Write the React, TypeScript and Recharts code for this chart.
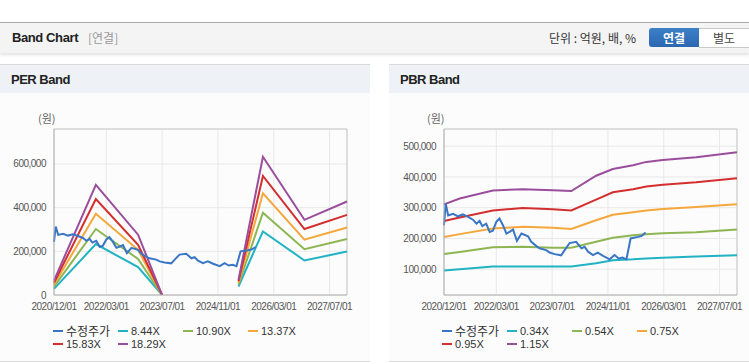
import { CartesianGrid, Line, LineChart, ReferenceLine, XAxis, YAxis } from 'recharts'

// x positions are month offsets from 2020/12/01
const tickMonths = [0, 15, 31, 47, 63, 79]
const tickLabels = ['2020/12/01', '2022/03/01', '2023/07/01', '2024/11/01', '2026/03/01', '2027/07/01']

// 수정주가 (adjusted price)
const priceMonths = [0, 0.5, 1.2, 2.6, 4.0, 5.4, 6.9, 8.3, 9.3, 10.2, 11.0, 12.1, 13.1, 14.0, 15.0, 15.9, 16.9, 17.9, 18.9, 19.8, 20.9, 22.2, 24.1, 25.0, 26.5, 27.4, 29.3, 30.3, 31.7, 33.6, 34.6, 36.0, 37.9, 39.4, 40.3, 41.3, 42.7, 44.1, 45.6, 47.5, 48.9, 50.1, 51.2, 52.3, 53.5, 55.6, 56.6, 57.8]
const priceValues = [243000, 313000, 275000, 280000, 272000, 278000, 270000, 261000, 248000, 257000, 240000, 248000, 221000, 225000, 254000, 265000, 243000, 216000, 222000, 229000, 192000, 216000, 207000, 189000, 175000, 168000, 162000, 154000, 149000, 145000, 162000, 185000, 189000, 168000, 173000, 157000, 146000, 154000, 143000, 132000, 146000, 135000, 138000, 132000, 200000, 205000, 208000, 219000]

// PER band
const perMonths = [0, 12.0, 24.1, 31.0, 42, 52.9, 59.9, 71.8, 84]
const per844 = [28000, 233000, 128000, 0, null, 39000, 291000, 158000, 199000]
const per1090 = [38000, 302000, 165000, 0, null, 48000, 377000, 210000, 256000]
const per1337 = [47000, 372000, 207000, 0, null, 56000, 466000, 253000, 309000]
const per1583 = [56000, 439000, 230000, 0, null, 63000, 545000, 302000, 367000]
const per1829 = [66000, 504000, 276000, 0, null, 70000, 633000, 344000, 428000]

// PBR band
const pbrMonths = [0, 4.5, 14, 22.6, 31.2, 36.5, 43.6, 48.4, 54.2, 58, 62.7, 72.3, 84]
const pbr034 = [96000, 100000, 109000, 109000, 109000, 109000, 119000, 129000, 132000, 135000, 137000, 141000, 145000]
const pbr054 = [149000, 156000, 171000, 173000, 170000, 170000, 189000, 202000, 210000, 214000, 217000, 220000, 229000]
const pbr075 = [205000, 214000, 232000, 238000, 235000, 231000, 259000, 277000, 285000, 291000, 296000, 302000, 311000]
const pbr095 = [257000, 268000, 291000, 299000, 295000, 291000, 326000, 350000, 360000, 369000, 375000, 383000, 396000]
const pbr115 = [311000, 330000, 356000, 360000, 357000, 354000, 404000, 426000, 438000, 449000, 455000, 464000, 480000]

const perNames = ['8.44X', '10.90X', '13.37X', '15.83X', '18.29X']
const pbrNames = ['0.34X', '0.54X', '0.75X', '0.95X', '1.15X']
const bandColors = ['#21b2c4', '#8db653', '#f5a73b', '#d32f2f', '#9a4e9c']
const priceColor = '#3a76c6'

const toPoints = (ms: number[], vs: (number | null)[]) => ms.map((m, i) => ({ m, v: vs[i] }))
const pricePoints = toPoints(priceMonths, priceValues)
const perBands = [per844, per1090, per1337, per1583, per1829].map(v => toPoints(perMonths, v))
const pbrBands = [pbr034, pbr054, pbr075, pbr095, pbr115].map(v => toPoints(pbrMonths, v))

const tickFont = { fontSize: 10, fill: '#555', letterSpacing: -0.5, fontFamily: "'Liberation Sans', Arial" }
const fmtX = (m: number) => tickLabels[tickMonths.indexOf(m)] ?? ''
const fmtY = (v: number) => v.toLocaleString('en-US')

function BandChart({ bands, names, domain, ticks, yWidth, width, right }: any) {
  return (
    <LineChart width={width} height={220} data={pricePoints} margin={{ top: 29, right, bottom: 0, left: 0 }}>
      <CartesianGrid stroke="#e8e8e8" />
      <XAxis dataKey="m" type="number" domain={[0, 84]} ticks={tickMonths} interval={0} tickFormatter={fmtX}
        tick={tickFont} tickLine={false} stroke="#aaa" height={25} allowDuplicatedCategory={false} />
      <YAxis type="number" domain={domain} ticks={ticks} tickFormatter={fmtY} tick={tickFont} tickLine={false}
        stroke="#aaa" width={yWidth} allowDataOverflow />
      <ReferenceLine y={domain[1]} stroke="#c8c8c8" />
      <ReferenceLine x={84} stroke="#c8c8c8" />
      {bands.map((d: any, i: number) => (
        <Line key={names[i]} data={d} dataKey="v" name={names[i]} stroke={bandColors[i]} strokeWidth={2}
          dot={false} isAnimationActive={false} connectNulls={false} />
      ))}
      <Line data={pricePoints} dataKey="v" name="수정주가" stroke={priceColor} strokeWidth={2} dot={false} isAnimationActive={false} />
    </LineChart>
  )
}

function LegendBox({ names }: { names: string[] }) {
  const items = [{ n: '수정주가', c: priceColor }, ...names.map((n, i) => ({ n, c: bandColors[i] }))]
  return (
    <div style={{ position: 'absolute', left: 53, top: 259, width: 270, display: 'flex', flexWrap: 'wrap' }}>
      {items.map(it => (
        <div key={it.n} style={{ width: 65, height: 13, display: 'flex', alignItems: 'center', fontSize: 11, color: '#333', fontFamily: "'Liberation Sans', 'Noto Sans CJK KR', sans-serif" }}>
          <span style={{ display: 'inline-block', width: 10, height: 2, background: it.c, marginRight: 3 }} />
          <span style={{ fontSize: it.n === '수정주가' ? 12 : 11, fontFamily: it.n === '수정주가' ? "'Noto Sans CJK KR'" : undefined }}>{it.n}</span>
        </div>
      ))}
    </div>
  )
}

function Panel({ left, width, title, children, names }: any) {
  return (
    <div style={{ position: 'absolute', left, top: 64, width, height: 298, background: '#fcfcfc', borderTop: '1px solid #d9d9d9', borderBottom: '1px solid #dcdcdc', boxSizing: 'border-box' }}>
      <div style={{ height: 28, background: '#eef2f7', display: 'flex', alignItems: 'center', paddingLeft: 11, fontSize: 13, fontWeight: 'bold', letterSpacing: -0.5, color: '#222', fontFamily: "'Liberation Sans', Arial" }}>{title}</div>
      <div style={{ position: 'absolute', left: 38, top: 45, fontSize: 11, color: '#666', fontFamily: "'Noto Sans CJK KR'" }}>(원)</div>
      <div style={{ position: 'absolute', left: 0, top: 35 }}>{children}</div>
      <LegendBox names={names} />
    </div>
  )
}

export default function App() {
  return (
    <div style={{ position: 'relative', width: 749, height: 364, background: '#fff', overflow: 'hidden', fontFamily: "'Noto Sans CJK KR', sans-serif" }}>
      <style>{'body{margin:0}'}</style>
      <div style={{ position: 'absolute', left: 0, top: 22, width: 749, height: 30, background: '#f4f4f4', borderTop: '1px solid #aaa', boxShadow: '0 2px 3px rgba(0,0,0,0.12)' }}>
        <span style={{ position: 'absolute', left: 12, top: 7, fontSize: 13, fontWeight: 'bold', letterSpacing: -0.4, color: '#222', fontFamily: "'Liberation Sans', Arial" }}>Band Chart</span>
        <span style={{ position: 'absolute', left: 88, top: 6, fontSize: 12, color: '#999' }}>[연결]</span>
        <span style={{ position: 'absolute', left: 549, top: 6, fontSize: 12, color: '#333', whiteSpace: 'pre' }}>단위 : 억원, 배, %</span>
        <div style={{ position: 'absolute', left: 649, top: 5, width: 50, height: 19, background: 'linear-gradient(#3d80c8, #2a68b0)', borderRadius: '3px 0 0 3px', color: '#fff', fontSize: 12, fontWeight: 'bold', textAlign: 'center', lineHeight: '19px' }}>연결</div>
        <div style={{ position: 'absolute', left: 699, top: 5, width: 50, height: 18, background: '#fff', border: '1px solid #c8c8c8', borderLeft: 'none', color: '#444', fontSize: 12, textAlign: 'center', lineHeight: '18px' }}>별도</div>
      </div>
      <Panel left={0} width={370} title="PER Band" names={perNames}>
        <BandChart bands={perBands} names={perNames} domain={[0, 760000]} ticks={[0, 200000, 400000, 600000]} yWidth={54} width={370} right={23} />
      </Panel>
      <Panel left={389} width={360} title="PBR Band" names={pbrNames}>
        <BandChart bands={pbrBands} names={pbrNames} domain={[16000, 556000]} ticks={[100000, 200000, 300000, 400000, 500000]} yWidth={55} width={360} right={12} />
      </Panel>
    </div>
  )
}
